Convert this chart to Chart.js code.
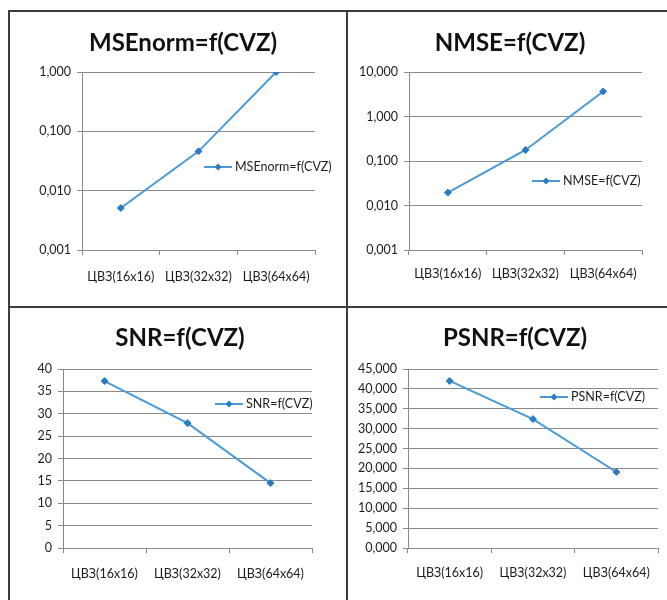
<!DOCTYPE html>
<html>
<head>
<meta charset="utf-8">
<script src="https://cdn.jsdelivr.net/npm/chart.js@4/dist/chart.umd.min.js"></script>
<style>
  html, body { margin:0; padding:0; background:#fff; }
  #page { position:relative; width:667px; height:600px; overflow:hidden; background:#fff; }
  .line { position:absolute; background:#3c3c3c; }
  canvas { position:absolute; }
</style>
</head>
<body>
<div id="page">
  <div class="line" style="left:8px;top:10px;width:659px;height:2px;"></div>
  <div class="line" style="left:8px;top:306px;width:659px;height:2px;"></div>
  <div class="line" style="left:8px;top:10px;width:2px;height:590px;"></div>
  <div class="line" style="left:346px;top:10px;width:2px;height:590px;"></div>
  <canvas id="c1" style="left:11px;top:13px;"></canvas>
  <canvas id="c2" style="left:349px;top:13px;"></canvas>
  <canvas id="c3" style="left:11px;top:309px;"></canvas>
  <canvas id="c4" style="left:349px;top:309px;"></canvas>
</div>
<script>
// ---- data ----
const categories = ['ЦВЗ(16x16)', 'ЦВЗ(32x32)', 'ЦВЗ(64x64)'];

const mseNormValues = [0.0051, 0.046, 1.0];
const nmseValues = [0.0195, 0.177, 3.65];
const snrValues = [37.3, 27.9, 14.5];
const psnrValues = [42.0, 32.4, 19.1];

const mseNormTicks = [0.001, 0.01, 0.1, 1];
const mseNormTickLabels = ['0,001', '0,010', '0,100', '1,000'];
const nmseTicks = [0.001, 0.01, 0.1, 1, 10];
const nmseTickLabels = ['0,001', '0,010', '0,100', '1,000', '10,000'];
const snrTicks = [0, 5, 10, 15, 20, 25, 30, 35, 40];
const snrTickLabels = ['0', '5', '10', '15', '20', '25', '30', '35', '40'];
const psnrTicks = [0, 5, 10, 15, 20, 25, 30, 35, 40, 45];
const psnrTickLabels = ['0,000', '5,000', '10,000', '15,000', '20,000', '25,000', '30,000', '35,000', '40,000', '45,000'];

const titles = ['MSEnorm=f(CVZ)', 'NMSE=f(CVZ)', 'SNR=f(CVZ)', 'PSNR=f(CVZ)'];

// ---- styling ----
const FONT = "Lato, 'Open Sans', 'DejaVu Sans', sans-serif";
const LINE_COLOR = '#4a9ad8';
const POINT_COLOR = '#2b7cc2';
const GRID_COLOR = '#8a8a8a';
const TEXT_COLOR = '#1c1c1c';
const TICK_SIZE = 12.5;

const insideLegend = {
  id: 'insideLegend',
  afterDatasetsDraw(chart, args, opts) {
    const ctx = chart.ctx;
    const ds = chart.data.datasets[0];
    ctx.save();
    ctx.strokeStyle = LINE_COLOR;
    ctx.lineWidth = 2;
    ctx.beginPath();
    ctx.moveTo(opts.x, opts.y);
    ctx.lineTo(opts.x + 28, opts.y);
    ctx.stroke();
    ctx.fillStyle = POINT_COLOR;
    const mx = opts.x + 14, my = opts.y, r = 3.5;
    ctx.beginPath();
    ctx.moveTo(mx, my - r); ctx.lineTo(mx + r, my); ctx.lineTo(mx, my + r); ctx.lineTo(mx - r, my);
    ctx.closePath(); ctx.fill();
    ctx.fillStyle = TEXT_COLOR;
    ctx.font = TICK_SIZE + 'px ' + FONT;
    ctx.textBaseline = 'middle';
    ctx.textAlign = 'left';
    ctx.fillText(ds.label, opts.x + 31, opts.y);
    ctx.restore();
  }
};

// shifts the title block horizontally so it sits where the reference puts it
const titleShift = {
  id: 'titleShift',
  afterLayout(chart, args, opts) {
    const tb = chart.titleBlock;
    if (tb) { tb.left += opts.dx; tb.right += opts.dx; }
  }
};

function makeChart(id, cfg) {
  const canvas = document.getElementById(id);
  canvas.width = cfg.w; canvas.height = cfg.h;
  canvas.style.width = cfg.w + 'px'; canvas.style.height = cfg.h + 'px';
  return new Chart(canvas, {
    type: 'line',
    data: {
      labels: categories,
      datasets: [{
        label: cfg.title,
        data: cfg.values,
        borderColor: LINE_COLOR,
        backgroundColor: POINT_COLOR,
        borderWidth: 2,
        pointStyle: 'rectRot',
        pointRadius: 3.5,
        pointBackgroundColor: POINT_COLOR,
        pointBorderColor: POINT_COLOR,
        pointBorderWidth: 1,
        tension: 0,
        fill: false
      }]
    },
    options: {
      responsive: false,
      animation: false,
      devicePixelRatio: 1,
      layout: { padding: { left: 0, right: cfg.pr, top: 0, bottom: 0 } },
      plugins: {
        legend: { display: false },
        tooltip: { enabled: false },
        title: {
          display: true,
          text: cfg.title,
          color: '#111',
          font: { family: FONT, size: 24, weight: 'bold', lineHeight: 1.2 },
          padding: { top: cfg.tt, bottom: cfg.tb }
        },
        insideLegend: { x: cfg.lx, y: cfg.ly },
        titleShift: { dx: cfg.tdx }
      },
      scales: {
        x: {
          type: 'category',
          offset: true,
          afterFit: s => { s.height = cfg.xh; },
          grid: { display: true, drawOnChartArea: false, drawTicks: true, tickLength: 5, color: GRID_COLOR, offset: true },
          border: { display: true, color: GRID_COLOR, width: 1 },
          ticks: { color: TEXT_COLOR, font: { family: FONT, size: TICK_SIZE }, padding: cfg.xp, maxRotation: 0, autoSkip: false }
        },
        y: {
          type: cfg.log ? 'logarithmic' : 'linear',
          min: cfg.ticks[0],
          max: cfg.ticks[cfg.ticks.length - 1],
          afterFit: s => { s.width = cfg.yw; },
          afterBuildTicks: s => { s.ticks = cfg.ticks.map(v => ({ value: v })); },
          grid: { color: GRID_COLOR, lineWidth: 1, drawTicks: true, tickLength: 5 },
          border: { display: true, color: GRID_COLOR, width: 1 },
          ticks: {
            color: TEXT_COLOR,
            font: { family: FONT, size: TICK_SIZE },
            padding: 6,
            autoSkip: false,
            callback: (value, index) => cfg.tickLabels[index]
          }
        }
      }
    },
    plugins: [insideLegend, titleShift]
  });
}

makeChart('c1', { w: 336, h: 294, pr: 32, yw: 71, xh: 57, xp: 14, tt: 15.6, tb: 14.6, tdx: 20,
  title: titles[0], values: mseNormValues, log: true, ticks: mseNormTicks, tickLabels: mseNormTickLabels, lx: 193, ly: 154 });
makeChart('c2', { w: 318, h: 294, pr: 25, yw: 60, xh: 57, xp: 11, tt: 15.6, tb: 14.6, tdx: 14.5,
  title: titles[1], values: nmseValues, log: true, ticks: nmseTicks, tickLabels: nmseTickLabels, lx: 183, ly: 168 });
makeChart('c3', { w: 336, h: 291, pr: 35, yw: 52, xh: 52, xp: 13, tt: 14.6, tb: 16.6, tdx: 18.5,
  title: titles[2], values: snrValues, log: false, ticks: snrTicks, tickLabels: snrTickLabels, lx: 204, ly: 95 });
makeChart('c4', { w: 318, h: 291, pr: 9, yw: 59, xh: 52, xp: 12, tt: 14.6, tb: 16.6, tdx: 11.5,
  title: titles[3], values: psnrValues, log: false, ticks: psnrTicks, tickLabels: psnrTickLabels, lx: 191, ly: 88 });
</script>
</body>
</html>
